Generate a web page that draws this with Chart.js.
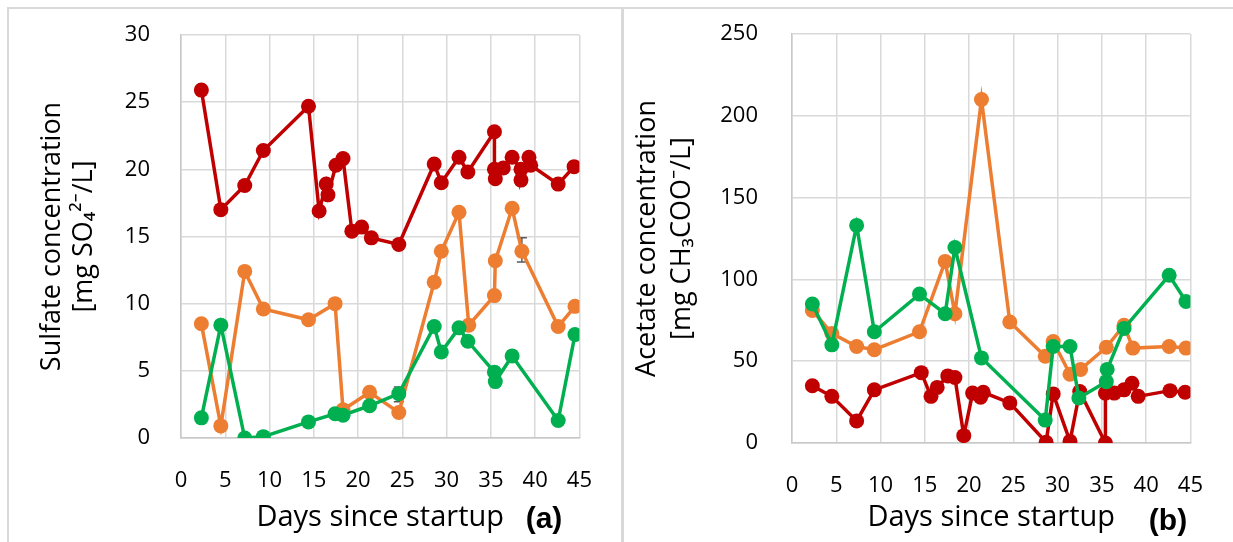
<!DOCTYPE html>
<html>
<head>
<meta charset="utf-8">
<script src="https://cdn.jsdelivr.net/npm/chart.js@4/dist/chart.umd.min.js"></script>
<style>
  body { margin: 0; background: #fff; width: 1233px; height: 542px; overflow: hidden; position: relative; }
  .frame { position: absolute; border: 2px solid #d9d9d9; box-sizing: border-box; }
  .box { position: absolute; top: 0; height: 542px; }
  .tag { position: absolute; font: bold 30px "Liberation Sans", Arial, sans-serif; color: #000; transform: translate(-50%, -50%); }
</style>
</head>
<body>
<div class="frame" style="left:7px; top:7px; width:617px; height:560px;"></div>
<div class="frame" style="left:621px; top:7px; width:640px; height:560px;"></div>
<div class="box" style="left:0; width:622px;"><canvas id="sulfate"></canvas></div>
<div class="box" style="left:622px; width:611px;"><canvas id="acetate"></canvas></div>
<div class="tag" style="left:544px; top:518px;">(a)</div>
<div class="tag" style="left:1168px; top:520px;">(b)</div>
<script>
// (a) sulfate, mg SO4 2-/L
const sulfRedDays = [2.3, 4.5, 7.2, 9.3, 14.4, 15.6, 16.4, 16.6, 17.5, 18.3, 19.3, 20.4, 21.5, 24.6, 28.6, 29.4, 31.4, 32.4, 35.4, 35.4, 35.5, 36.4, 37.4, 38.4, 38.4, 39.3, 39.5, 42.6, 44.4];
const sulfRed = [25.9, 17.0, 18.8, 21.4, 24.7, 16.9, 18.9, 18.1, 20.3, 20.8, 15.4, 15.7, 14.9, 14.4, 20.4, 19.0, 20.9, 19.8, 22.8, 20.0, 19.3, 20.1, 20.9, 20.0, 19.2, 20.9, 20.3, 18.9, 20.2];
const sulfOrangeDays = [2.3, 4.5, 7.2, 9.3, 14.4, 17.4, 18.3, 21.3, 24.6, 28.6, 29.4, 31.4, 32.5, 35.4, 35.5, 37.4, 38.5, 42.6, 44.5];
const sulfOrange = [8.5, 0.9, 12.4, 9.6, 8.8, 10.0, 2.1, 3.4, 1.9, 11.6, 13.9, 16.8, 8.4, 10.6, 13.2, 17.1, 13.9, 8.3, 9.8];
const sulfGreenDays = [2.3, 4.5, 7.2, 9.3, 14.4, 17.4, 18.3, 21.3, 24.6, 28.6, 29.4, 31.4, 32.4, 35.4, 35.5, 37.4, 42.6, 44.5];
const sulfGreen = [1.5, 8.4, 0.0, 0.1, 1.2, 1.8, 1.7, 2.4, 3.3, 8.3, 6.4, 8.2, 7.2, 4.9, 4.2, 6.1, 1.3, 7.7];
// error bars on a few sulfate points: day, low, high
const sulfErrDays = [24.6, 38.5, 37.4];
const sulfErrLow = [2.7, 13.1, 5.8];
const sulfErrHigh = [3.8, 14.9, 6.5];

// (b) acetate, mg CH3COO-/L
const aceRedDays = [2.3, 4.5, 7.3, 9.3, 14.6, 15.7, 16.4, 17.6, 18.4, 19.4, 20.4, 21.3, 21.6, 24.6, 28.7, 29.5, 31.4, 32.5, 35.4, 35.4, 36.4, 37.5, 38.4, 39.1, 42.7, 44.4];
const aceRed = [35, 28.5, 13.5, 32.5, 43, 28.5, 34, 41, 40, 4.5, 30.5, 28, 31, 24.5, 0.5, 30, 1, 31.5, 0, 30.5, 30.5, 32.5, 36.5, 28.5, 32, 31];
const aceOrangeDays = [2.3, 4.5, 7.3, 9.3, 14.4, 17.3, 18.4, 21.4, 24.6, 28.6, 29.5, 31.4, 32.6, 35.5, 37.5, 38.5, 42.6, 44.5];
const aceOrange = [81, 67, 59, 57, 68, 111, 79, 210, 74, 53, 62, 42, 45, 58.5, 72, 58, 59, 58];
const aceGreenDays = [2.3, 4.5, 7.3, 9.3, 14.4, 17.3, 18.4, 21.4, 28.6, 29.5, 31.4, 32.4, 35.5, 35.6, 37.5, 42.6, 44.5];
const aceGreen = [85, 60, 133, 68, 91, 79, 119.5, 52, 14, 59, 59, 27.5, 37.5, 45, 70, 102.5, 86.5];

const dayTicks = [0, 5, 10, 15, 20, 25, 30, 35, 40, 45];

const RED = '#c00000';
const ORANGE = '#ed7d31';
const GREEN = '#00b050';
const FONT = '"Open Sans", "Noto Sans", sans-serif';

function pts(days, vals) {
  return days.map((d, i) => ({ x: d, y: vals[i] }));
}

function series(days, vals, color) {
  return {
    data: pts(days, vals),
    borderColor: color,
    backgroundColor: color,
    borderWidth: 3.5,
    pointRadius: 7.5,
    pointHoverRadius: 7.5,
    pointBorderWidth: 0,
    pointBackgroundColor: color,
    tension: 0
  };
}

// small capped bars, drawn under the markers
const errorBars = {
  id: 'errorBars',
  beforeDatasetsDraw(chart, args, opts) {
    if (!opts.days) return;
    const { ctx, scales: { x, y } } = chart;
    ctx.save();
    ctx.strokeStyle = '#595959';
    ctx.lineWidth = 1.5;
    opts.days.forEach((d, i) => {
      const px = x.getPixelForValue(d);
      const top = y.getPixelForValue(opts.high[i]);
      const bot = y.getPixelForValue(opts.low[i]);
      ctx.beginPath();
      ctx.moveTo(px, top); ctx.lineTo(px, bot);
      ctx.moveTo(px - 5, top); ctx.lineTo(px + 5, top);
      ctx.moveTo(px - 5, bot); ctx.lineTo(px + 5, bot);
      ctx.stroke();
    });
    ctx.restore();
  }
};

function makeChart(canvas, datasets, cfg) {
  return new Chart(canvas, {
    type: 'line',
    data: { datasets },
    plugins: [errorBars],
    options: {
      responsive: true,
      maintainAspectRatio: false,
      animation: false,
      layout: { padding: { top: cfg.top, right: cfg.right, left: 0, bottom: 0 } },
      plugins: {
        legend: { display: false },
        tooltip: { enabled: false },
        errorBars: cfg.err || {}
      },
      scales: {
        x: {
          type: 'linear',
          min: 0, max: 45,
          afterBuildTicks: (s) => { s.ticks = dayTicks.map(v => ({ value: v })); },
          afterFit: (s) => { s.height = cfg.xHeight; },
          ticks: { color: '#000', font: { family: FONT, size: 22 }, padding: 30, maxRotation: 0 },
          grid: { color: '#d9d9d9', lineWidth: 1.5, drawTicks: false },
          border: { color: '#c8c8c8', width: 1.5 },
          title: {
            display: true, text: 'Days since startup', color: '#000',
            font: { family: FONT, size: 29, lineHeight: 1.2 }, padding: { top: 0, bottom: 7 }
          }
        },
        y: {
          min: 0, max: cfg.yMax,
          afterFit: (s) => { s.width = cfg.yWidth; s.paddingTop = 0; s.paddingBottom = 0; },
          ticks: { stepSize: cfg.yStep, color: '#000', font: { family: FONT, size: 22 }, padding: cfg.yPad },
          grid: { color: '#d9d9d9', lineWidth: 1.5, drawTicks: false },
          border: { color: '#c8c8c8', width: 1.5 },
          title: {
            display: true, text: cfg.yTitle, color: '#000',
            font: { family: FONT, size: 27, lineHeight: cfg.titleLH }, padding: { top: cfg.titleTop, bottom: 0 }
          }
        }
      }
    }
  });
}

makeChart(document.getElementById('sulfate'), [
  series(sulfGreenDays, sulfGreen, GREEN),
  series(sulfRedDays, sulfRed, RED),
  series(sulfOrangeDays, sulfOrange, ORANGE)
], {
  top: 35, right: 32, xHeight: 104, yWidth: 181, yMax: 30, yStep: 5, yPad: 31, titleTop: 36, titleLH: 1.2,
  yTitle: ['Sulfate concentration', '[mg SO\u2084\u00b2\u207b/L]'],
  err: { days: sulfErrDays, low: sulfErrLow, high: sulfErrHigh }
});

makeChart(document.getElementById('acetate'), [
  series(aceGreenDays, aceGreen, GREEN),
  series(aceRedDays, aceRed, RED),
  series(aceOrangeDays, aceOrange, ORANGE)
], {
  top: 34, right: 29, xHeight: 99, yWidth: 170, yMax: 250, yStep: 50, yPad: 34, titleTop: 8, titleLH: 1.3,
  yTitle: ['Acetate concentration', '[mg CH\u2083COO\u207b/L]']
});
</script>
</body>
</html>
